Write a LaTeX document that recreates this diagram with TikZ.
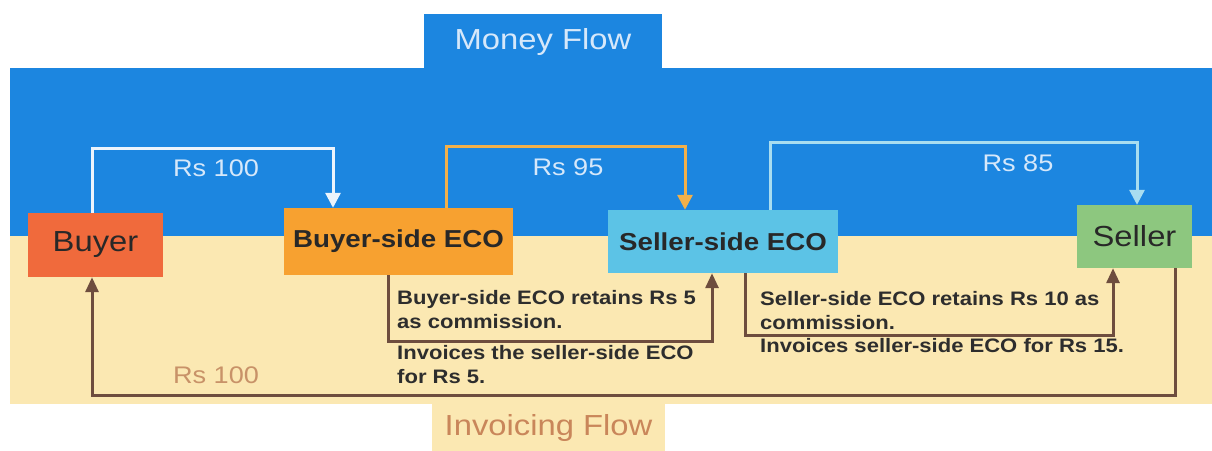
\documentclass[tikz,border=0pt]{standalone}
\usepackage{fontspec}
\setmainfont[FakeStretch=1.13]{Liberation Sans}
\usetikzlibrary{arrows.meta,calc}
\definecolor{bandblue}{RGB}{28,134,224}
\definecolor{cream}{RGB}{251,232,178}
\definecolor{buyerc}{RGB}{240,106,60}
\definecolor{becoc}{RGB}{247,161,48}
\definecolor{secoc}{RGB}{92,195,230}
\definecolor{sellerc}{RGB}{141,199,127}
\definecolor{boxtext}{RGB}{40,40,40}
\definecolor{whitearr}{RGB}{236,244,252}
\definecolor{orangearr}{RGB}{242,176,74}
\definecolor{cyanarr}{RGB}{168,221,240}
\definecolor{brownarr}{RGB}{110,77,62}
\definecolor{rslabel}{RGB}{214,232,250}
\definecolor{tanlabel}{RGB}{200,146,104}
\definecolor{invtext}{RGB}{201,134,90}
\definecolor{bodytext}{RGB}{45,45,45}
\tikzset{
  party/.style={rectangle, inner sep=0pt, text=boxtext, font=\fontsize{29}{32}\selectfont},
  eco/.style={rectangle, inner sep=0pt, text=boxtext, font=\fontsize{24.5}{28}\selectfont\bfseries},
  flowarr/.style={line width=3pt, -{Triangle[length=15pt,width=15pt]}},
  invarr/.style={line width=3pt, color=brownarr, -{Triangle[length=15pt,width=13pt]}},
  amount/.style={font=\fontsize{24}{28}\selectfont, inner sep=0pt},
  note/.style={anchor=north west, inner sep=0pt, align=left, text=bodytext, font=\fontsize{19.5}{24.5}\selectfont\bfseries},
  tab/.style={rectangle, inner sep=0pt, font=\fontsize{29}{32}\selectfont}
}
\begin{document}
\begin{tikzpicture}[x=1pt,y=-1pt]
\useasboundingbox (0,0) rectangle (1212,450);
\fill[white] (0,0) rectangle (1212,450);
% bands
\fill[bandblue] (10,68) rectangle (1212,237);
\fill[cream] (10,236) rectangle (1212,404);
% tabs
\node[tab, fill=bandblue, minimum width=238pt, minimum height=56pt, text=rslabel] (money) at (543,42) {Money Flow};
\node[tab, fill=cream, minimum width=233pt, minimum height=47pt, text=invtext] (invoicing) at (548.5,427.5) {Invoicing Flow};
% boxes
\node[party, fill=buyerc, minimum width=135pt, minimum height=64pt] (buyer) at (95.5,245) {Buyer};
\node[eco, fill=becoc, minimum width=229pt, minimum height=67pt] (beco) at (398.5,241.5) {Buyer-side ECO};
\node[eco, fill=secoc, minimum width=230pt, minimum height=63pt] (seco) at (723,241.5) {Seller-side ECO};
\node[party, fill=sellerc, minimum width=115pt, minimum height=63pt] (seller) at (1134.5,236.5) {Seller};
% money flow
\draw[flowarr, color=whitearr] ([xshift=-3.5pt]buyer.north) -- ([xshift=-3.5pt]buyer.north |- 0,148) -| ([xshift=-65.5pt]beco.north);
\draw[flowarr, color=orangearr] ([xshift=47.5pt]beco.north) -- ([xshift=47.5pt]beco.north |- 0,146) -| ([xshift=-38pt]seco.north);
\draw[flowarr, color=cyanarr] ([xshift=47pt]seco.north) -- ([xshift=47pt]seco.north |- 0,142) -| ([xshift=2.5pt]seller.north);
\node[amount, text=rslabel] (m1) at (216,168) {Rs 100};
\node[amount, text=rslabel] (m2) at (568,167) {Rs 95};
\node[amount, text=rslabel] (m3) at (1018,163) {Rs 85};
% invoicing flow
\draw[invarr] ([xshift=-10.5pt]beco.south) -- ([xshift=-10.5pt]beco.south |- 0,341) -| ([xshift=-11pt]seco.south);
\draw[invarr] ([xshift=22pt]seco.south) -- ([xshift=22pt]seco.south |- 0,335) -| ([xshift=-21.5pt]seller.south);
\draw[invarr] ([xshift=40.5pt]seller.south) -- ([xshift=40.5pt]seller.south |- 0,395) -| ([xshift=-3.5pt]buyer.south);
\node[amount, text=tanlabel] (i1) at (216,375) {Rs 100};
% notes
\node[note] (n1) at (397,290) {Buyer-side ECO retains Rs 5\\as commission.};
\node[note] (n2) at (397,345) {Invoices the seller-side ECO\\for Rs 5.};
\node[note] (n3) at (760,291) {Seller-side ECO retains Rs 10 as\\commission.};
\node[note] (n4) at (760,338) {Invoices seller-side ECO for Rs 15.};
\end{tikzpicture}
\end{document}
